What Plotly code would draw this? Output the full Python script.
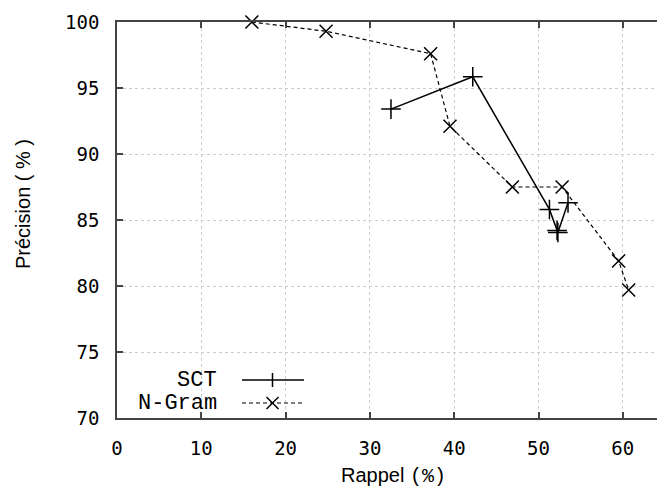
import plotly.graph_objects as go

# ---- data ----
sct_rappel = [32.5, 42.2, 51.3, 52.2, 52.3, 53.5]
sct_precision = [93.4, 95.85, 85.8, 84.2, 84.05, 86.3]

ngram_rappel = [16.0, 24.8, 37.2, 39.5, 46.9, 52.8, 59.5, 60.7]
ngram_precision = [100.0, 99.3, 97.6, 92.1, 87.5, 87.5, 81.9, 79.7]

x_ticks = [0, 10, 20, 30, 40, 50, 60]
y_ticks = [70, 75, 80, 85, 90, 95, 100]
series_names = ["SCT", "N-Gram"]

# ---- layout geometry (pixels) ----
W, H = 657, 490
L, R, T, B = 117, 0, 22, 72
PW, PH = W - L - R, H - T - B


def px(xp):
    return (xp - L) / PW


def py(yp):
    return (H - B - yp) / PH


fig = go.Figure()
fig.add_trace(go.Scatter(
    x=sct_rappel, y=sct_precision, mode="lines+markers", name=series_names[0],
    line=dict(color="black", width=1.5),
    marker=dict(symbol="cross-thin", size=14, line=dict(color="black", width=1.5)),
    showlegend=False, cliponaxis=False,
))
fig.add_trace(go.Scatter(
    x=ngram_rappel, y=ngram_precision, mode="lines+markers", name=series_names[1],
    line=dict(color="black", width=1.2, dash="4px,3px"),
    marker=dict(symbol="x-thin", size=13, line=dict(color="black", width=1.5)),
    showlegend=False, cliponaxis=False,
))

shapes = []
# white areas hiding grid around legend
shapes.append(dict(type="rect", xref="paper", yref="paper", x0=px(L + 1), x1=px(316),
                   y0=py(416), y1=py(359), fillcolor="white", line=dict(width=0), layer="between"))
shapes.append(dict(type="rect", xref="paper", yref="paper", x0=px(316), x1=px(406),
                   y0=py(416), y1=py(344), fillcolor="white", line=dict(width=0), layer="between"))

# legend samples
ly = [380, 403]
shapes.append(dict(type="line", xref="paper", yref="paper", x0=px(242), x1=px(304),
                   y0=py(ly[0]), y1=py(ly[0]), line=dict(color="black", width=1.5)))
shapes.append(dict(type="line", xref="paper", yref="paper", x0=px(242), x1=px(304),
                   y0=py(ly[1]), y1=py(ly[1]), line=dict(color="black", width=1.2, dash="4px,3px")))
cx = 272.5
s = 7
shapes.append(dict(type="line", xref="paper", yref="paper", x0=px(cx), x1=px(cx),
                   y0=py(ly[0] - s), y1=py(ly[0] + s), line=dict(color="black", width=1.5)))
s2 = 6
shapes.append(dict(type="line", xref="paper", yref="paper", x0=px(cx - s2), x1=px(cx + s2),
                   y0=py(ly[1] - s2), y1=py(ly[1] + s2), line=dict(color="black", width=1.5)))
shapes.append(dict(type="line", xref="paper", yref="paper", x0=px(cx - s2), x1=px(cx + s2),
                   y0=py(ly[1] + s2), y1=py(ly[1] - s2), line=dict(color="black", width=1.5)))

annotations = []
for name, yy in zip(series_names, ly):
    annotations.append(dict(text=name, xref="paper", yref="paper", x=px(219), y=py(yy),
                            xanchor="right", yanchor="middle", showarrow=False,
                            font=dict(family="Liberation Mono", size=22, color="black")))

# axis titles
annotations.append(dict(
    text="Rappel <span style='font-family:Liberation Mono'>(%)</span>",
    xref="paper", yref="paper", x=px(393), y=py(476), xanchor="center", yanchor="middle",
    showarrow=False, font=dict(family="Liberation Sans", size=20, color="black")))
annotations.append(dict(
    text="Précision ( % )",
    xref="paper", yref="paper", x=px(23), y=py(204), xanchor="center", yanchor="middle",
    textangle=-90, showarrow=False, font=dict(family="Liberation Sans", size=20, color="black")))

fig.update_layout(
    width=W, height=H,
    margin=dict(l=L, r=R, t=T, b=B, autoexpand=False),
    paper_bgcolor="white", plot_bgcolor="white",
    shapes=shapes, annotations=annotations,
    showlegend=False,
)
fig.update_xaxes(
    range=[0, PW / 8.43], tickvals=x_ticks, ticktext=[str(v) for v in x_ticks],
    ticks="inside", ticklen=6, tickcolor="#444", tickwidth=1.5,
    showline=True, linecolor="#444", linewidth=1.5, mirror="ticks",
    showgrid=True, gridcolor="#cccccc", griddash="dot", gridwidth=1,
    zeroline=False, ticklabelstandoff=12, automargin=False,
    tickfont=dict(family="DejaVu Sans Mono", size=19, color="black"),
)
fig.update_yaxes(
    range=[70, 100], tickvals=y_ticks, ticktext=[str(v) for v in y_ticks],
    ticks="inside", ticklen=6, tickcolor="#444", tickwidth=1.5,
    showline=True, linecolor="#444", linewidth=1.5, mirror=False,
    showgrid=True, gridcolor="#cccccc", griddash="dot", gridwidth=1,
    zeroline=False, ticklabelstandoff=12, automargin=False,
    tickfont=dict(family="DejaVu Sans Mono", size=19, color="black"),
)

fig.write_html(
    "out.html",
    config={"displayModeBar": False},
    post_script="document.body.style.margin='0';document.body.style.overflow='hidden';",
)
